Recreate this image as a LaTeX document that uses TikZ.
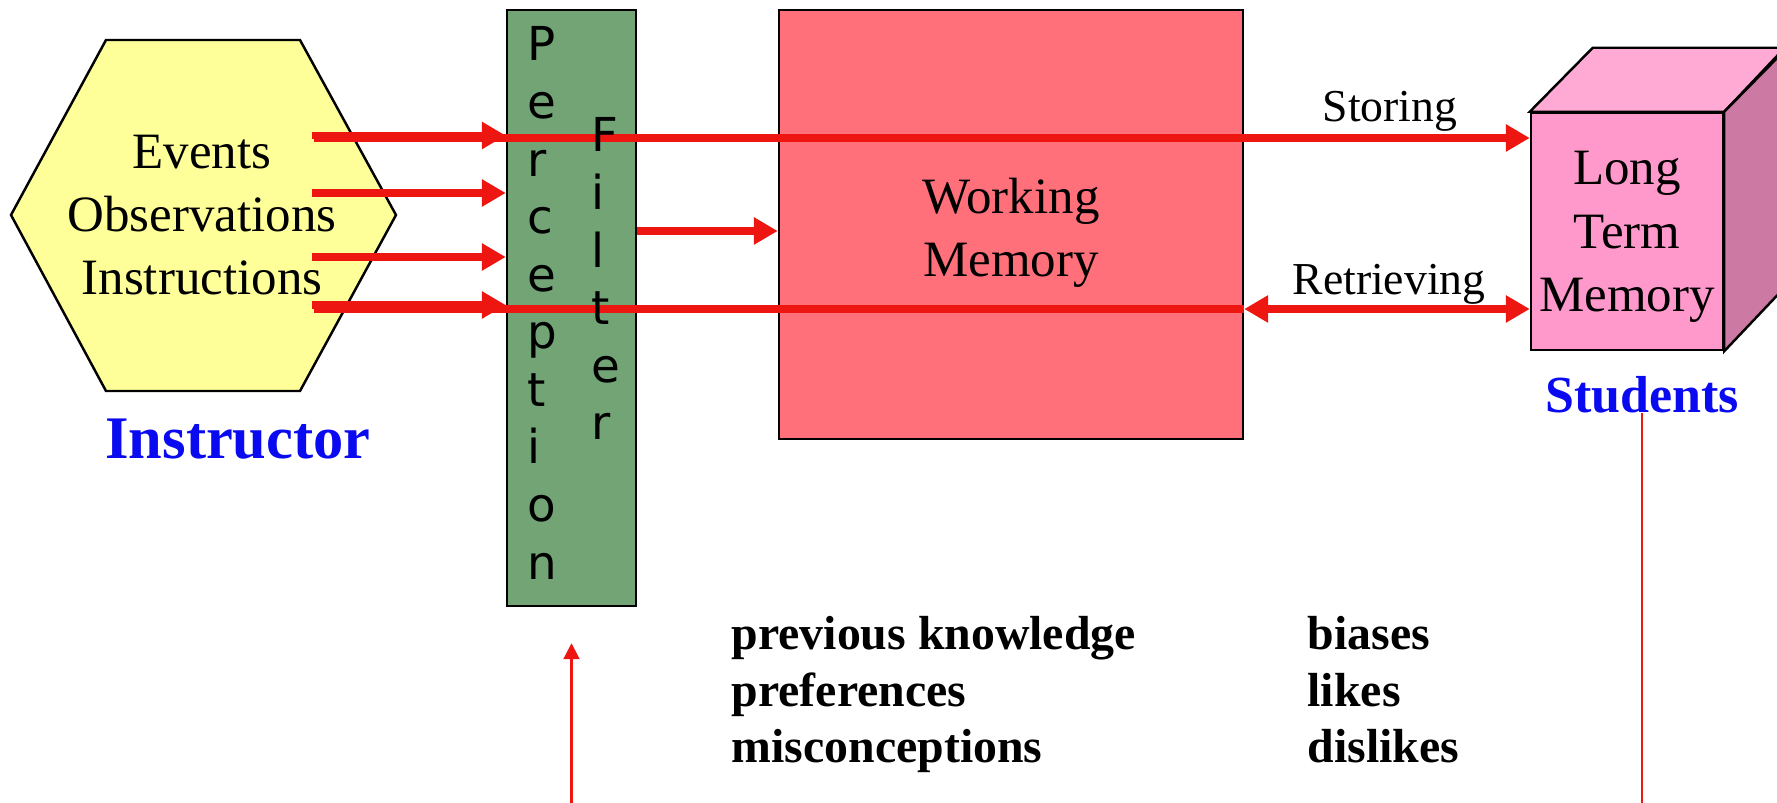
\documentclass[tikz,border=0pt]{standalone}
\usepackage{fontspec}
\setmainfont{Liberation Serif}
\newfontfamily\filterfont{DejaVu Sans}
\usetikzlibrary{arrows.meta}
\definecolor{hexyellow}{RGB}{255,255,153}
\definecolor{filtergreen}{RGB}{114,164,118}
\definecolor{wmred}{RGB}{255,112,122}
\definecolor{arrred}{RGB}{237,22,16}
\definecolor{ltmfront}{RGB}{255,153,204}
\definecolor{ltmtop}{RGB}{255,170,212}
\definecolor{ltmside}{RGB}{204,122,163}
\definecolor{lblblue}{RGB}{10,10,240}
\tikzset{
  box/.style={draw=black, line width=0.7pt, inner sep=0pt},
  fat/.style={draw=arrred, line width=2pt, -{Triangle[length=0.24cm,width=0.26cm]}},
  slim/.style={draw=arrred, line width=0.6pt},
  bigtxt/.style={font=\fontsize{14.5}{18}\selectfont, align=center, inner sep=0pt},
  lbl/.style={font=\fontsize{13}{16}\selectfont, anchor=base, inner sep=0pt},
  who/.style={font=\bfseries, text=lblblue, anchor=base, inner sep=0pt},
  letter/.style={font=\filterfont\fontsize{13.3}{15}\selectfont, anchor=base west, inner sep=0pt},
  listtxt/.style={font=\bfseries\fontsize{13.6}{16}\selectfont, anchor=base west, inner sep=0pt}
}
\begin{document}
\begin{tikzpicture}[x=1cm,y=-1cm]
\useasboundingbox (0,0) rectangle (17.77,8.03);
\clip (0,0) rectangle (17.77,8.03);
% instructor side
\draw[box,fill=hexyellow] (0.11,2.15) -- (1.06,0.40) -- (3.00,0.40) -- (3.96,2.15) -- (3.00,3.91) -- (1.06,3.91) -- cycle;
\node[bigtxt] (input) at (2.02,2.15) {Events\\Observations\\Instructions};
\node[who, font=\bfseries\fontsize{17.2}{20}\selectfont] (instructor) at (2.38,4.59) {Instructor};

% filter, working memory, long term memory
\node[box, fill=filtergreen, minimum width=1.29cm, minimum height=5.96cm] (filter) at (5.715,3.08) {};
\node[box, fill=wmred, minimum width=4.64cm, minimum height=4.29cm] (wm) at (10.11,2.245) {};
\node[box, fill=ltmfront, minimum width=1.92cm, minimum height=2.37cm] (ltm) at (16.27,2.315) {};
\draw[box, fill=ltmtop] (ltm.north west) -- ++(0.63,-0.64) -- ++(1.92,0) -- (ltm.north east) -- cycle;
\draw[box, fill=ltmside] (ltm.north east) -- ++(0.63,-0.64) -- ++(0,2.37) -- (ltm.south east) -- cycle;

% arrows
\coordinate (h1) at (3.12,1.355);
\coordinate (h2) at (3.12,1.93);
\coordinate (h3) at (3.12,2.57);
\coordinate (h4) at (3.12,3.05);
\foreach \c in {h1,h2,h3,h4} \draw[fat] (\c) -- (\c -| filter.west);
\coordinate (s1) at (3.14,1.38);
\coordinate (r1) at (3.14,3.09);
\coordinate (fw) at (0,2.31);
\draw[fat] (s1) -- (s1 -| ltm.west);
\draw[draw=arrred, line width=2pt] (r1) -- (r1 -| wm.east);
\draw[fat, {Triangle[length=0.24cm,width=0.26cm]}-{Triangle[length=0.24cm,width=0.26cm]}] (r1 -| wm.east) -- (r1 -| ltm.west);
\draw[fat] (fw -| filter.east) -- (fw -| wm.west);
\node[lbl] (storing) at (13.90,1.22) {Storing};
\node[lbl] (retrieving) at (13.89,2.95) {Retrieving};

% letters
\foreach \l [count=\i] in {P,e,r,c,e,p,t,i,o,n}
  \node[letter] (per\i) at (5.27,{0.61+0.5756*(\i-1)}) {\l};
\foreach \l [count=\i] in {F,i,l,t,e,r}
  \node[letter] (fil\i) at (5.91,{1.52+0.5756*(\i-1)}) {\l};

\node[bigtxt] (wmtxt) at (10.11,2.33) {Working\\Memory};
\node[bigtxt] (ltmtxt) at (16.27,2.37) {Long\\Term\\Memory};

% students
\coordinate (stfoot) at (16.42,8.03);
\node[who, font=\bfseries\fontsize{14.8}{18}\selectfont] (students) at (16.42,4.13) {Students};
\draw[slim] (students.base) -- (stfoot);

% below
\coordinate (from) at (5.715,8.03);
\draw[slim, -{Triangle[length=0.16cm,width=0.16cm]}] (from) -- ([yshift=-0.36cm]filter.south);
\foreach \a/\b [count=\i] in {previous knowledge/biases, preferences/likes, misconceptions/dislikes} {
  \node[listtxt] (known\i) at (7.31,{6.50+0.565*(\i-1)}) {\a};
  \node[listtxt] (feel\i) at (13.07,{6.50+0.565*(\i-1)}) {\b};
}
\end{tikzpicture}
\end{document}
